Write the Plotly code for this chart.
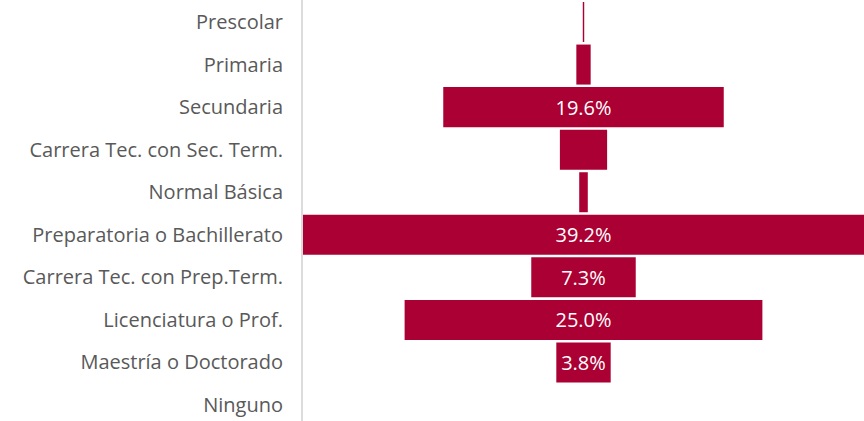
import plotly.graph_objects as go

categories = ["Prescolar", "Primaria", "Secundaria", "Carrera Tec. con Sec. Term.",
              "Normal Básica", "Preparatoria o Bachillerato", "Carrera Tec. con Prep.Term.",
              "Licenciatura o Prof.", "Maestría o Doctorado", "Ninguno"]
values = [0.1, 1.0, 19.6, 3.3, 0.6, 39.2, 7.3, 25.0, 3.8, 0.0]
labels = ["", "", "19.6%", "", "", "39.2%", "7.3%", "25.0%", "3.8%", ""]

bar_color = "#AB0033"
half = [-v / 2 for v in values]
xmax = max(values) / 2
FONT = "Open Sans"

fig = go.Figure(go.Bar(
    y=categories, x=values, base=half, orientation="h",
    marker=dict(color=bar_color, line=dict(width=0)),
    text=labels, textposition="inside", insidetextanchor="middle",
    textfont=dict(color="white", size=20, family=FONT),
    hoverinfo="skip",
))

fig.update_layout(
    width=864, height=421,
    margin=dict(l=303, r=0, t=0, b=0),
    paper_bgcolor="white", plot_bgcolor="white",
    bargap=0.06, showlegend=False,
    font=dict(family=FONT, size=20, color="#595959"),
)
fig.update_xaxes(range=[-xmax, xmax], visible=False, fixedrange=True)
fig.update_yaxes(autorange=False, range=[9.375, -0.517],
                 showline=True, linecolor="#DCDCDC", linewidth=2,
                 showgrid=False, zeroline=False, ticks="",
                 ticklabelstandoff=14, automargin=False, fixedrange=True,
                 tickfont=dict(family=FONT, size=20, color="#595959"))

fig.write_html("out.html", post_script="document.body.style.margin='0';",
               config={"displayModeBar": False, "staticPlot": True})
